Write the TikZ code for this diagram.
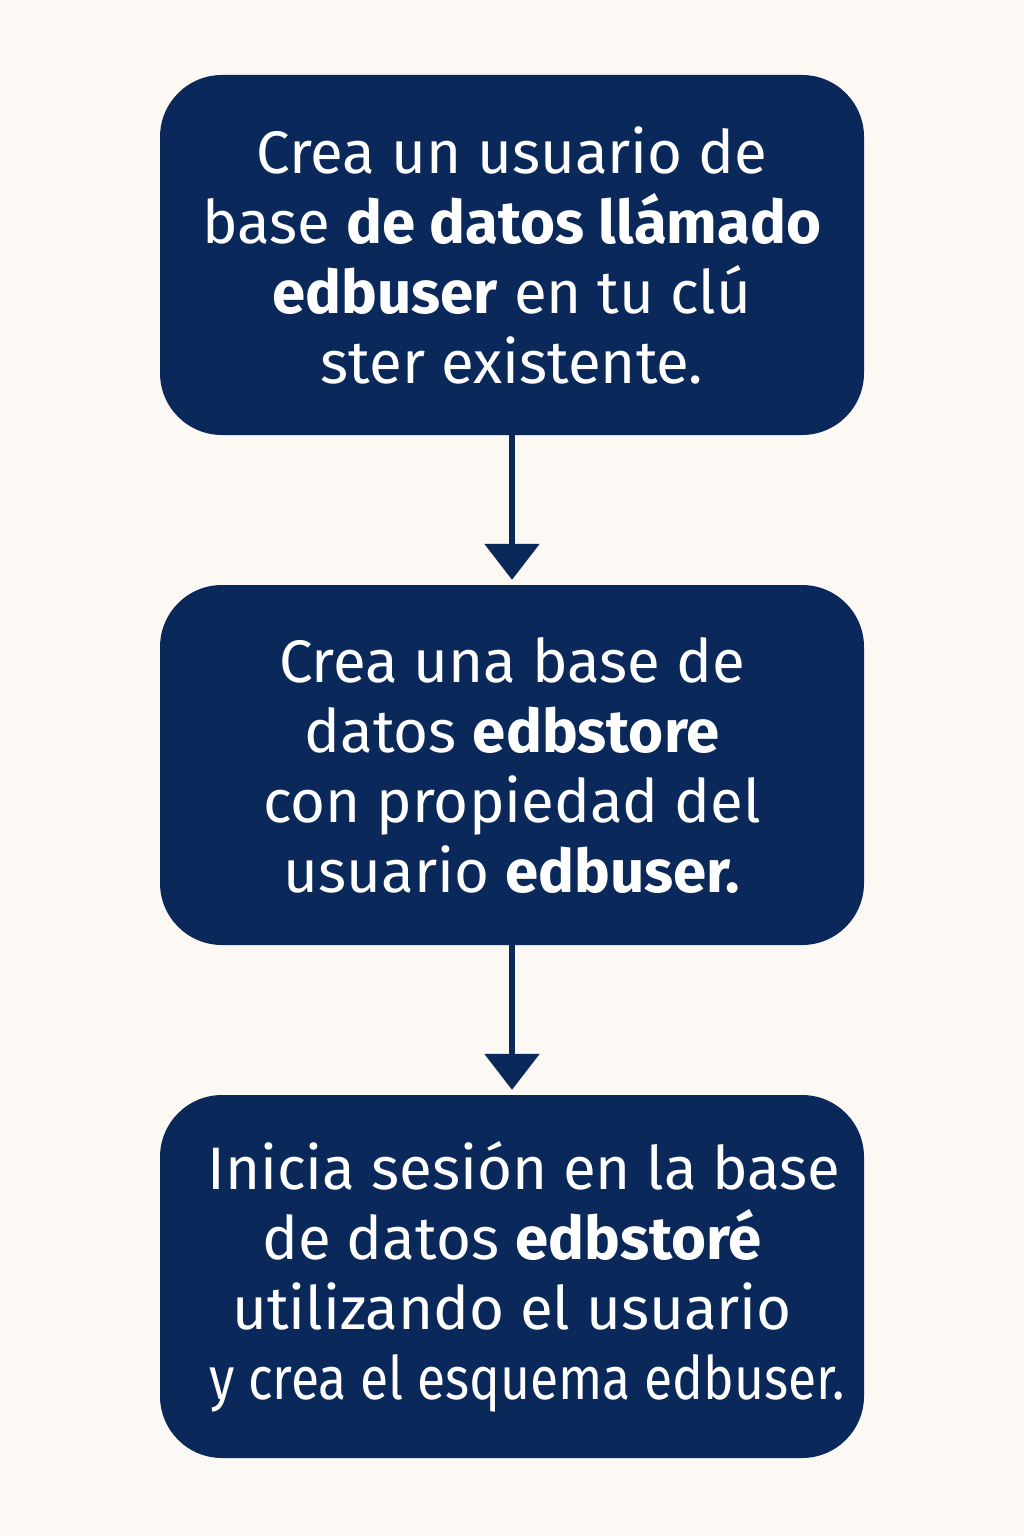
\documentclass[tikz,border=0pt]{standalone}
\usepackage{fontspec}
\setmainfont{Fira Sans}
\usetikzlibrary{arrows.meta}
\definecolor{bgc}{HTML}{FCF8F3}
\definecolor{navy}{HTML}{0A2859}
\tikzset{
  stepbox/.style={fill=navy, draw=none, rounded corners=62pt, minimum width=704pt, minimum height=360pt, inner sep=0pt, text=white, align=center, font=\fontsize{60}{70}\selectfont},
  flow/.style={draw=navy, line width=6pt, -{Triangle[width=54pt,length=36pt]}, shorten >=5pt}
}
\begin{document}
\begin{tikzpicture}[x=1pt,y=-1pt]
\fill[bgc] (0,0) rectangle (1024,1536);
\useasboundingbox (0,0) rectangle (1024,1536);
\node[stepbox] (a) at (512,255) {Crea un usuario de\\base \textbf{de datos llámado}\\\textbf{edbuser} en tu clú\\ster existente.};
\node[stepbox] (b) at (512,765) {Crea una base de\\datos \textbf{edbstore}\\con propiedad del\\usuario \textbf{edbuser.}};
\node[stepbox, minimum height=363pt] (c) at (512,1276.5) {\hspace*{24pt}Inicia sesión en la base\\de datos \textbf{edbstoré}\\utilizando el usuario\\\hspace*{30pt}\scalebox{0.86}[1]{y crea el esquema edbuser.}};
\draw[flow] (a.south) -- (b.north);
\draw[flow] (b.south) -- (c.north);
\end{tikzpicture}
\end{document}
